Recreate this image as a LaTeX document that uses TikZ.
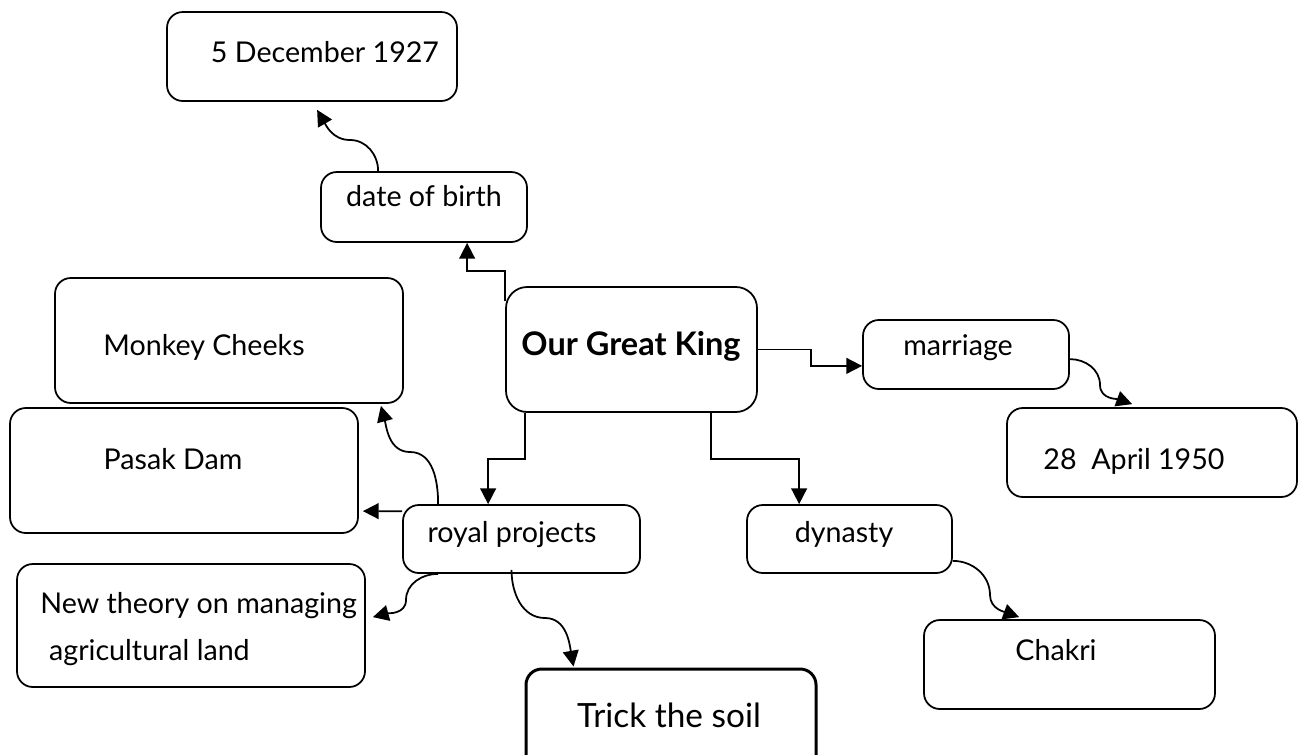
\documentclass[tikz,border=0pt]{standalone}
\usepackage{fontspec}
\setmainfont{Lato}
\usetikzlibrary{arrows.meta, calc, fit}
\tikzset{
    font=\fontsize{16.3}{19}\selectfont,
    card/.style={rectangle, rounded corners=9pt, draw=black, line width=1pt, inner sep=0pt},
    kingcard/.style={card, rounded corners=12pt},
    soilcard/.style={card, line width=1.7pt},
    txt/.style={inner sep=0pt, anchor=base},
    link/.style={-{Triangle[length=9pt, width=9pt]}, line width=1pt, color=black}
}

\begin{document}
\begin{tikzpicture}[x=0.02cm, y=-0.02cm]

    \useasboundingbox (0,0) rectangle (1307,754);

    % Boxes
    \node (dec)      [card, fit={(167,12) (457,101)}] {};
    \node (dob)      [card, fit={(321,172) (527,242)}] {};
    \node (king)     [kingcard, fit={(506,287) (757,412)}] {};
    \node (marriage) [card, fit={(863,320) (1069,389)}] {};
    \node (april)    [card, fit={(1007,408) (1297,497)}] {};
    \node (monkey)   [card, fit={(55,278) (403,403)}] {};
    \node (pasak)    [card, fit={(10,408) (358,533)}] {};
    \node (royal)    [card, fit={(403,505) (640,573)}] {};
    \node (dynasty)  [card, fit={(747,505) (952,573)}] {};
    \node (newland)  [card, fit={(17,564) (365,687)}] {};
    \node (soil)     [soilcard, fit={(526,669) (816,790)}] {};
    \node (chakri)   [card, fit={(924,620) (1215,709)}] {};

    % Texts
    \node (dec-t)      [txt] at (325,62) {5 December 1927};
    \node (dob-t)      [txt] at (424,206) {date of birth};
    \node (king-t)     [txt, font=\fontsize{18.5}{22}\selectfont\bfseries] at (631,355) {Our Great King};
    \node (marriage-t) [txt] at (958,355) {marriage};
    \node (april-t)    [txt] at (1134,469) {28~ April 1950};
    \node (monkey-t)   [txt] at (204,355) {Monkey Cheeks};
    \node (pasak-t)    [txt] at (173,469) {Pasak Dam};
    \node (royal-t)    [txt] at (512,542) {royal projects};
    \node (dynasty-t)  [txt] at (844,542) {dynasty};
    \node (newland-t)  [txt, anchor=base west, align=left, font=\fontsize{16.3}{26.6}\selectfont] at (40,660) {New theory on managing\\\hspace*{5pt}agricultural land};
    \node (soil-t)     [txt, font=\fontsize{19}{23}\selectfont] at (669,727) {Trick the soil};
    \node (chakri-t)   [txt] at (1056,660) {Chakri};

    % Arrows
    \draw [link] ($(dob.north west)+(58,0)$) to[out=90, in=0] (350,140) to[out=180, in=-60] ($(dec.south west)+(151,8)$);
    \draw [link] ($(king.north west)+(0,15)$) -- ++(0,-30) -| ($(dob.south west)+(147,0)$);
    \draw [link] (king.east) -- ++(53,0) |- ($(marriage.south west)+(0,-24)$);
    \draw [link] ($(marriage.north east)+(0,40)$) to[out=0, in=90] (1100,385) to[out=-90, in=160] ($(april.north west)+(126,-3)$);
    \draw [link] ($(king.south west)+(20,0)$) -- ++(0,46) -| ($(royal.north west)+(86,0)$);
    \draw [link] ($(king.south east)+(-47,0)$) -- ++(0,46) -| ($(dynasty.north west)+(53,0)$);
    \draw [link] ($(royal.north west)+(36,0)$) to[out=90, in=0] (410,452) to[out=180, in=-75] ($(monkey.south east)+(-23,2)$);
    \draw [link] ($(royal.north west)+(0,7)$) -- ($(pasak.north east)+(4,104)$);
    \draw [link] ($(royal.south west)+(36,0)$) to[out=180, in=90] (406,600) to[out=-90, in=15] ($(newland.north east)+(7,54)$);
    \draw [link] ($(royal.south)+(-10,-4)$) to[out=-90, in=180] (545,618) to[out=0, in=100] ($(soil.north west)+(49,-1)$);
    \draw [link] ($(dynasty.south east)+(0,-13)$) to[out=0, in=90] (990,595) to[out=-90, in=160] ($(chakri.north west)+(96,-2)$);

\end{tikzpicture}
\end{document}
